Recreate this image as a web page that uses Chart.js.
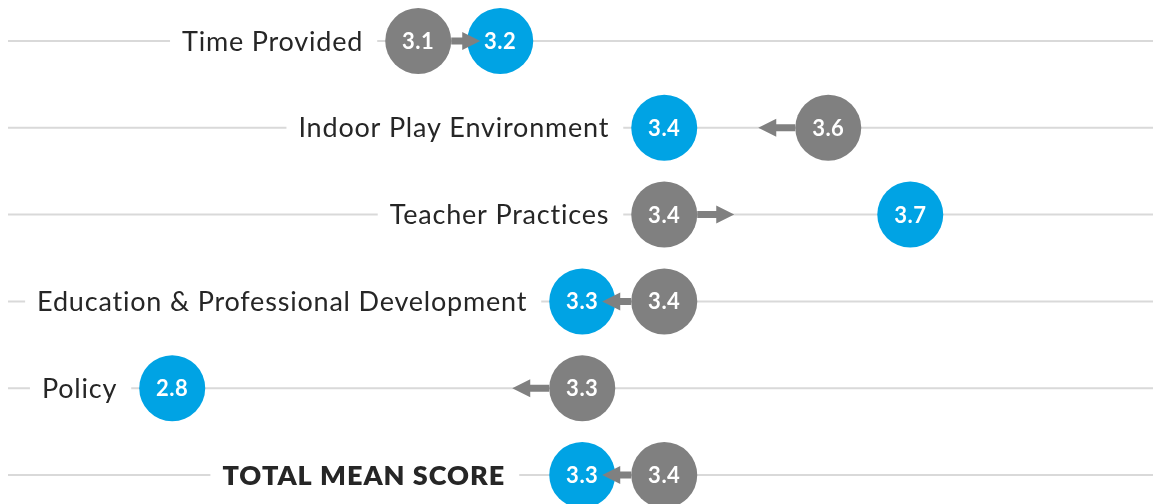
<!DOCTYPE html>
<html>
<head>
<meta charset="utf-8">
<title>Mean scores</title>
<script src="https://cdn.jsdelivr.net/npm/chart.js@4/dist/chart.umd.min.js"></script>
<style>
  html, body { margin: 0; padding: 0; background: #fff; }
  #wrap { width: 1153px; height: 504px; position: relative; }
</style>
</head>
<body>
<div id="wrap"><canvas id="scoreChart"></canvas></div>
<script>
// Kategori dan nilai (sebelum -> sesudah)
const categories = [
    'Time Provided',
    'Indoor Play Environment',
    'Teacher Practices',
    'Education & Professional Development',
    'Policy',
    'TOTAL MEAN SCORE'
];
const beforeScores = [3.1, 3.6, 3.4, 3.4, 3.3, 3.4];
const afterScores = [3.2, 3.4, 3.7, 3.3, 2.8, 3.3];

const GRAY = '#808080';
const BLUE = '#00A3E4';
const RADIUS = 33;

// Garis baris, label kategori, panah dan angka di dalam lingkaran
const rowPlugin = {
    id: 'rowPlugin',
    beforeDatasetsDraw(chart) {
        const { ctx, scales: { x, y }, chartArea } = chart;
        ctx.save();
        categories.forEach((label, i) => {
            const py = y.getPixelForValue(i);
            ctx.strokeStyle = '#D9D9D9';
            ctx.lineWidth = 2;
            ctx.beginPath();
            ctx.moveTo(8, py);
            ctx.lineTo(chartArea.right, py);
            ctx.stroke();

            // baris total ditulis tebal dan diberi jarak lebih lebar
            const isTotal = i === categories.length - 1;
            ctx.font = isTotal ? '800 27px Lato' : '400 27px Lato';
            ctx.letterSpacing = isTotal ? '1px' : '0.8px';
            const left = Math.min(x.getPixelForValue(beforeScores[i]), x.getPixelForValue(afterScores[i]));
            const right = left - RADIUS - (isTotal ? 44 : 22);
            const w = ctx.measureText(label).width;
            ctx.fillStyle = '#fff';
            ctx.fillRect(right - w - 12, py - 18, w + 26, 36);
            ctx.fillStyle = '#262626';
            ctx.textAlign = 'right';
            ctx.textBaseline = 'middle';
            ctx.fillText(label, right, py + 1);
        });
        ctx.restore();
    },
    afterDatasetsDraw(chart) {
        const { ctx, scales: { x, y } } = chart;
        ctx.save();
        categories.forEach((label, i) => {
            const py = y.getPixelForValue(i);
            const xb = x.getPixelForValue(beforeScores[i]);
            const xa = x.getPixelForValue(afterScores[i]);
            const dir = xa > xb ? 1 : -1;
            const start = xb + dir * RADIUS;
            const len = Math.min(37, Math.abs(xa - xb) - RADIUS - 20);
            const tip = start + dir * len;
            const headBase = tip - dir * 18;

            ctx.fillStyle = GRAY;
            ctx.beginPath();
            ctx.moveTo(start, py - 3.5);
            ctx.lineTo(headBase, py - 3.5);
            ctx.lineTo(headBase, py - 9);
            ctx.lineTo(tip, py);
            ctx.lineTo(headBase, py + 9);
            ctx.lineTo(headBase, py + 3.5);
            ctx.lineTo(start, py + 3.5);
            ctx.closePath();
            ctx.fill();

            ctx.fillStyle = '#fff';
            ctx.font = 'bold 22px Lato';
            ctx.letterSpacing = '0.5px';
            ctx.textAlign = 'center';
            ctx.textBaseline = 'middle';
            ctx.fillText(beforeScores[i].toFixed(1), xb, py + 1);
            ctx.fillText(afterScores[i].toFixed(1), xa, py + 1);
        });
        ctx.restore();
    }
};

const ctx = document.getElementById('scoreChart').getContext('2d');
const scoreChart = new Chart(ctx, {
    type: 'scatter',
    data: {
        datasets: [
            {
                label: 'Before',
                data: beforeScores.map((v, i) => ({ x: v, y: i })),
                backgroundColor: GRAY,
                pointRadius: RADIUS,
                pointHoverRadius: RADIUS,
                borderWidth: 0
            },
            {
                label: 'After',
                data: afterScores.map((v, i) => ({ x: v, y: i })),
                backgroundColor: BLUE,
                pointRadius: RADIUS,
                pointHoverRadius: RADIUS,
                borderWidth: 0
            }
        ]
    },
    options: {
        responsive: true,
        maintainAspectRatio: false,
        animation: false,
        devicePixelRatio: 1,
        layout: { padding: 0, autoPadding: false },
        plugins: {
            legend: { display: false },
            tooltip: { enabled: false }
        },
        scales: {
            x: { type: 'linear', min: 2.59, max: 3.996, display: false },
            y: { type: 'linear', min: -0.472, max: 5.334, reverse: true, display: false }
        }
    },
    plugins: [rowPlugin]
});
</script>
</body>
</html>
